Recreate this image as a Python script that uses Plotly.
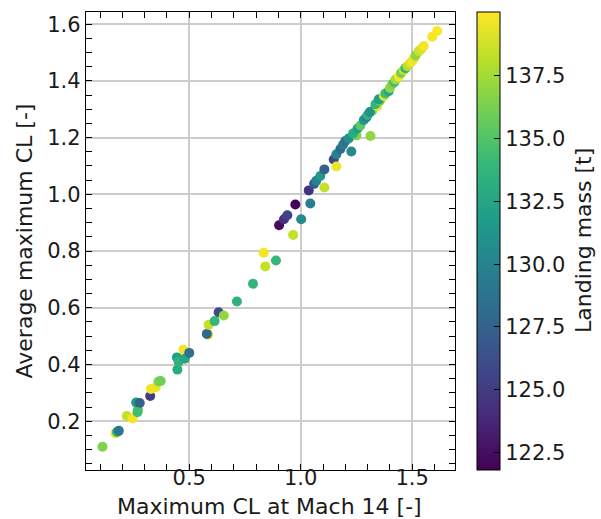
import plotly.graph_objects as go

# Maximum lift coefficient at Mach 14 vs. average maximum lift coefficient,
# coloured by landing mass.
max_cl_mach14 = [
    0.111, 0.170, 0.176, 0.184, 0.220, 0.246, 0.270, 0.262, 0.278, 0.268,
    0.325, 0.328, 0.350, 0.362, 0.372, 0.447, 0.445, 0.452, 0.474, 0.480,
    0.500, 0.585, 0.579, 0.587, 0.614, 0.632, 0.655, 0.714, 0.786, 0.834,
    0.841, 0.889, 0.903, 0.925, 0.940, 0.966, 0.976, 1.002, 1.043, 1.036,
    1.060, 1.070, 1.088, 1.106, 1.106, 1.148, 1.160, 1.160, 1.178, 1.190,
    1.227, 1.200, 1.215, 1.250, 1.235, 1.313, 1.255, 1.268, 1.283, 1.295,
    1.300, 1.320, 1.310, 1.343, 1.335, 1.355, 1.350, 1.373, 1.380, 1.395,
    1.400, 1.410, 1.420, 1.425, 1.440, 1.450, 1.462, 1.470, 1.478, 1.490,
    1.500, 1.508, 1.515, 1.530, 1.540, 1.552, 1.590, 1.612,
]
avg_max_cl = [
    0.110, 0.158, 0.162, 0.166, 0.218, 0.210, 0.240, 0.266, 0.264, 0.232,
    0.289, 0.314, 0.320, 0.340, 0.342, 0.382, 0.425, 0.410, 0.452, 0.420,
    0.441, 0.505, 0.508, 0.540, 0.553, 0.584, 0.573, 0.622, 0.685, 0.794,
    0.746, 0.767, 0.891, 0.912, 0.926, 0.857, 0.964, 0.912, 0.968, 1.014,
    1.037, 1.048, 1.065, 1.088, 1.024, 1.123, 1.098, 1.141, 1.160, 1.175,
    1.151, 1.188, 1.197, 1.208, 1.215, 1.206, 1.232, 1.243, 1.262, 1.272,
    1.280, 1.294, 1.290, 1.311, 1.318, 1.330, 1.335, 1.347, 1.356, 1.364,
    1.375, 1.388, 1.395, 1.405, 1.415, 1.428, 1.438, 1.445, 1.452, 1.462,
    1.470, 1.480, 1.490, 1.505, 1.512, 1.523, 1.556, 1.576,
]
landing_mass = [
    136.5, 139.5, 133.5, 129.0, 138.5, 139.8, 135.5, 131.5, 127.5, 134.5,
    125.0, 139.8, 139.5, 136.5, 136.0, 133.0, 132.0, 133.5, 139.8, 132.5,
    128.5, 139.5, 128.0, 138.5, 134.0, 126.0, 137.0, 133.5, 133.8, 139.8,
    138.5, 134.0, 122.3, 124.5, 125.5, 138.5, 122.0, 130.5, 129.5, 124.5,
    127.0, 130.0, 131.5, 127.5, 138.5, 125.5, 139.5, 130.0, 128.0, 129.5,
    130.5, 128.5, 131.0, 136.5, 133.0, 137.0, 132.0, 135.5, 131.5, 130.0,
    133.5, 136.5, 131.0, 139.5, 134.0, 136.0, 132.0, 139.0, 134.5, 132.5,
    137.0, 136.5, 134.5, 137.5, 139.8, 136.0, 138.5, 133.5, 138.0, 139.0,
    139.8, 139.5, 137.0, 138.5, 139.0, 139.8, 139.9, 140.0,
]

x_ticks = [0.5, 1.0, 1.5]
y_ticks = [0.2, 0.4, 0.6, 0.8, 1.0, 1.2, 1.4, 1.6]
mass_ticks = [122.5, 125.0, 127.5, 130.0, 132.5, 135.0, 137.5]

x_range = [0.037, 1.692]
y_range = [0.028, 1.643]
mass_range = [121.8, 140.05]

W, H = 601, 519
ML, MR, MT, MB = 86, 0, 12, 49
plot_w = W - ML - MR
plot_h = H - MT - MB
x_dom_end = (455 - ML) / plot_w
cb_left = (477 - ML) / plot_w
cb_right = (500 - ML) / plot_w

FONT = "DejaVu Sans"
TXT = "#1a1a1a"

fig = go.Figure()
fig.add_trace(go.Scatter(
    x=max_cl_mach14, y=avg_max_cl, mode="markers",
    marker=dict(
        size=10, color=landing_mass, colorscale="Viridis",
        cmin=mass_range[0], cmax=mass_range[1], line=dict(width=0),
        showscale=True,
        colorbar=dict(
            x=cb_left, xanchor="left", xpad=0,
            y=0.5, yanchor="middle", len=1, lenmode="fraction", ypad=0,
            thickness=23, thicknessmode="pixels",
            outlinewidth=1, outlinecolor="black",
            tickmode="array", tickvals=mass_ticks,
            ticktext=[f"{v:.1f}" for v in mass_ticks],
            ticks="inside", ticklen=6, tickwidth=1.2, tickcolor="black",
            tickfont=dict(family=FONT, size=21, color=TXT),
        ),
    ),
    showlegend=False, hoverinfo="skip",
))
# Invisible traces so the helper axes (colorbar minor ticks, x tick labels)
# are drawn
fig.add_trace(go.Scatter(x=[None], y=[None], yaxis="y2", showlegend=False,
                         hoverinfo="skip"))
fig.add_trace(go.Scatter(x=[None], y=[None], xaxis="x2", showlegend=False,
                         hoverinfo="skip"))

axis_common = dict(
    showline=True, linecolor="black", linewidth=1.3, mirror="allticks",
    ticks="inside", ticklen=6, tickwidth=1.2, tickcolor="black",
    showgrid=True, gridcolor="#cccccc", gridwidth=1.5, zeroline=False,
    tickfont=dict(family=FONT, size=21, color=TXT), automargin=False,
)

fig.update_layout(
    width=W, height=H,
    margin=dict(l=ML, r=MR, t=MT, b=MB),
    paper_bgcolor="white", plot_bgcolor="white",
    font=dict(family=FONT, color=TXT),
    xaxis=dict(
        axis_common, domain=[0, x_dom_end], range=x_range,
        tickmode="array", tickvals=x_ticks, showticklabels=False,
        minor=dict(ticks="inside", dtick=0.1, tick0=0, ticklen=3.5,
                   tickwidth=1, tickcolor="black", showgrid=False),
    ),
    # tick labels for the x axis, set a little closer to the frame
    xaxis2=dict(
        overlaying="x", anchor="free", position=7 / plot_h, side="bottom",
        range=x_range, showgrid=False, zeroline=False, showline=False,
        ticks="", tickmode="array", tickvals=x_ticks,
        ticktext=[f"{v:.1f}" for v in x_ticks],
        tickfont=dict(family=FONT, size=21, color=TXT), automargin=False,
    ),
    yaxis=dict(
        axis_common, domain=[0, 1], range=y_range,
        tickmode="array", tickvals=y_ticks,
        ticktext=[f"{v:.1f}" for v in y_ticks],
        minor=dict(ticks="inside", dtick=0.05, tick0=0, ticklen=3.5,
                   tickwidth=1, tickcolor="black", showgrid=False),
        title=dict(text="Average maximum CL [-]",
                   font=dict(family=FONT, size=22, color=TXT), standoff=8),
    ),
    yaxis2=dict(
        overlaying="y", anchor="free", position=cb_right, side="right",
        range=mass_range, showgrid=False, zeroline=False, showline=False,
        showticklabels=False, ticks="", tickmode="array", tickvals=[],
        minor=dict(ticks="inside", dtick=0.625, tick0=122.5, ticklen=3,
                   tickwidth=1, tickcolor="black", showgrid=False),
    ),
    annotations=[
        dict(
            text="Maximum CL at Mach 14 [-]", showarrow=False,
            xref="paper", yref="paper",
            x=(269 - ML) / plot_w, y=(470 - 507) / plot_h,
            xanchor="center", yanchor="middle",
            font=dict(family=FONT, size=22, color=TXT),
        ),
        dict(
            text="Landing mass [t]", textangle=-90, showarrow=False,
            xref="paper", yref="paper", x=(583 - ML) / plot_w, y=0.5,
            xanchor="center", yanchor="middle",
            font=dict(family=FONT, size=22, color=TXT),
        ),
    ],
)

fig.write_html("out.html")
